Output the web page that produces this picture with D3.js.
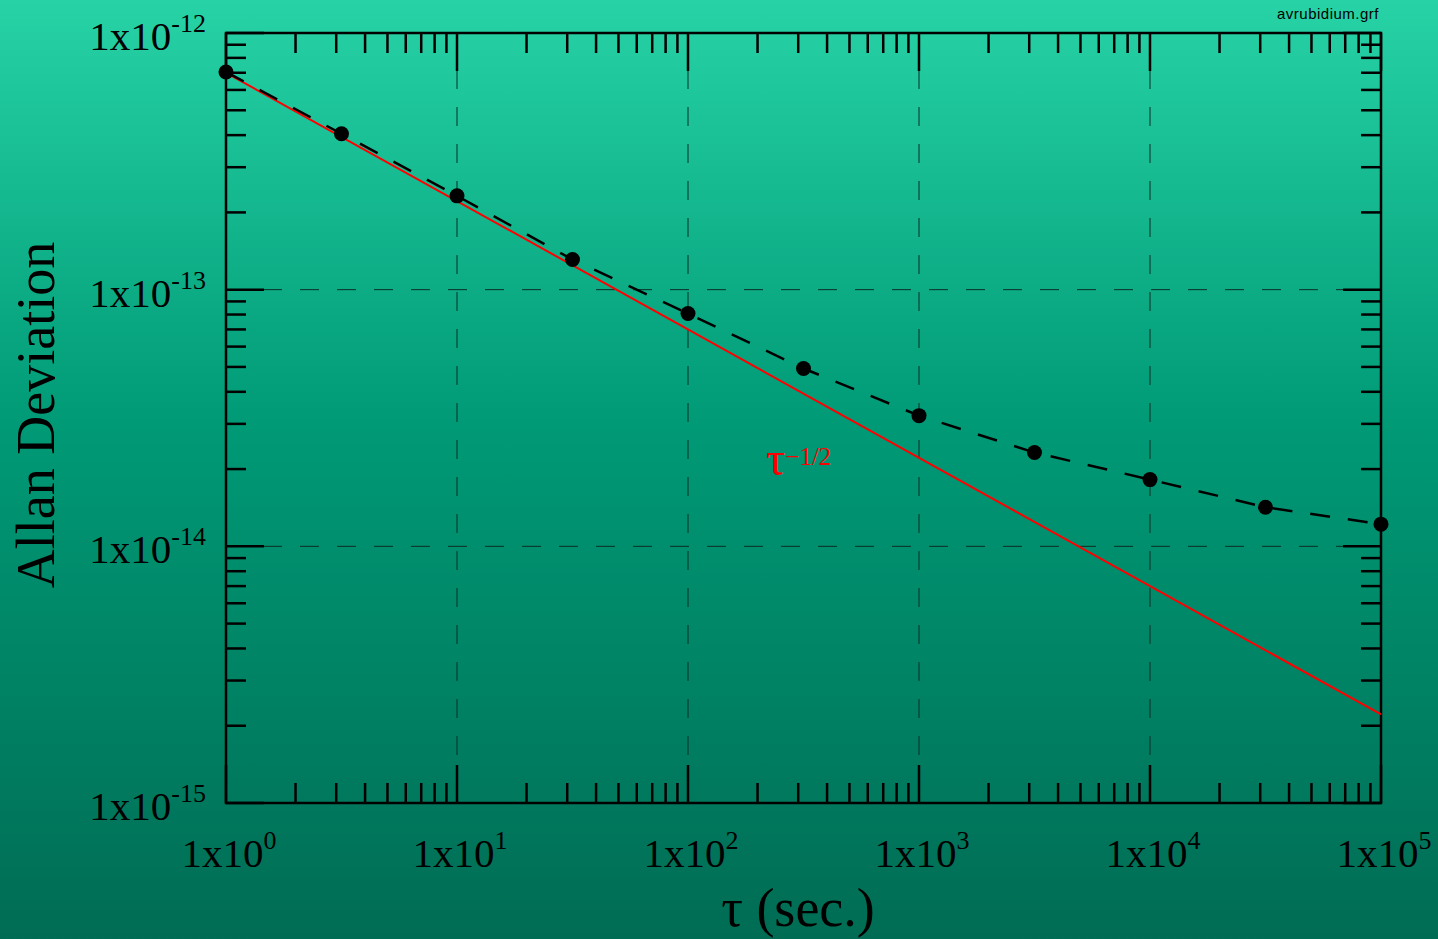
<!DOCTYPE html>
<meta charset="utf-8">
<style>
body { margin: 0; }
.grid line { stroke: #0b2e24; stroke-width: 1px; stroke-dasharray: 19,18; }
</style>
<html>
<body>
<div id="my_dataviz"></div>
<script src="https://d3js.org/d3.v7.min.js"></script>
<script>

// data: Allan deviation vs averaging time (half-decade steps)
var tau = [1, 3.162, 10, 31.62, 100, 316.2, 1000, 3162, 10000, 31620, 100000];
var adev = [7.05e-13, 4.05e-13, 2.32e-13, 1.31e-13, 8.07e-14, 4.93e-14, 3.23e-14, 2.32e-14, 1.82e-14, 1.42e-14, 1.22e-14];
var refStart = 7.0e-13;   // tau^-1/2 reference line at tau = 1
var refSlope = -0.5;
var xDecades = [0, 1, 2, 3, 4, 5];
var yDecades = [-12, -13, -14, -15];

var W = 1438, H = 939;
var margin = {top: 33, right: 57, bottom: 136, left: 226},
    width = W - margin.left - margin.right,
    height = H - margin.top - margin.bottom;

var root = d3.select("#my_dataviz")
  .append("svg")
    .attr("width", W)
    .attr("height", H);

// background gradient
var grad = root.append("defs").append("linearGradient")
    .attr("id", "bg").attr("x1", 0).attr("y1", 0).attr("x2", 0).attr("y2", 1);
grad.append("stop").attr("offset", "0%").attr("stop-color", "#27d3a6");
grad.append("stop").attr("offset", "45%").attr("stop-color", "#009a76");
grad.append("stop").attr("offset", "100%").attr("stop-color", "#006c54");
root.append("rect").attr("width", W).attr("height", H).attr("fill", "url(#bg)");

root.append("text")
    .attr("x", 1379).attr("y", 19)
    .attr("text-anchor", "end")
    .style("font-family", "Liberation Sans, Arial")
    .style("font-size", "15px")
    .style("letter-spacing", "0.5px")
    .text("avrubidium.grf");

var svg = root.append("g")
    .attr("transform", "translate(" + margin.left + "," + margin.top + ")");

var x = d3.scaleLog().domain([1, 1e5]).range([0, width]);
var y = d3.scaleLog().domain([1e-15, 1e-12]).range([height, 0]);

// minor tick values
var xMinor = [], yMinor = [];
for (var e = 0; e < 5; e++) for (var m = 2; m <= 9; m++) xMinor.push(m * Math.pow(10, e));
for (var e2 = -15; e2 < -12; e2++) for (var m2 = 2; m2 <= 9; m2++) yMinor.push(m2 * Math.pow(10, e2));

// grid lines at inner decades
var grid = svg.append("g").attr("class", "grid");
grid.selectAll("gx").data(xDecades.slice(1, -1)).enter().append("line")
    .attr("x1", d => x(Math.pow(10, d))).attr("x2", d => x(Math.pow(10, d)))
    .attr("y1", 0).attr("y2", height);
grid.selectAll("gy").data(yDecades.slice(1, -1)).enter().append("line")
    .attr("y1", d => y(Math.pow(10, d))).attr("y2", d => y(Math.pow(10, d)))
    .attr("x1", 0).attr("x2", width);

// ticks, all pointing inward
var tk = svg.append("g").attr("stroke", "black").attr("stroke-width", 2.5);
function xTicks(vals, len) {
  vals.forEach(function(v) {
    tk.append("line").attr("x1", x(v)).attr("x2", x(v)).attr("y1", height).attr("y2", height - len);
    tk.append("line").attr("x1", x(v)).attr("x2", x(v)).attr("y1", 0).attr("y2", len);
  });
}
function yTicks(vals, len) {
  vals.forEach(function(v) {
    tk.append("line").attr("y1", y(v)).attr("y2", y(v)).attr("x1", 0).attr("x2", len);
    tk.append("line").attr("y1", y(v)).attr("y2", y(v)).attr("x1", width).attr("x2", width - len);
  });
}
xTicks(xMinor, 20);
yTicks(yMinor, 20);
xTicks(xDecades.map(d => Math.pow(10, d)), 38);
yTicks(yDecades.map(d => Math.pow(10, d)), 38);

svg.append("rect")
    .attr("width", width).attr("height", height)
    .attr("fill", "none").attr("stroke", "black").attr("stroke-width", 2.5);

// tick labels
var xl = svg.append("g").style("font-family", "Liberation Serif, Times New Roman, serif").style("fill", "black");
xDecades.forEach(function(d) {
  var t = xl.append("text")
      .attr("x", x(Math.pow(10, d)) + 3).attr("y", height + 64)
      .attr("text-anchor", "middle")
      .style("font-size", "41px");
  t.append("tspan").text("1x10");
  t.append("tspan").attr("dy", -18).style("font-size", "26px").text(d);
});
yDecades.forEach(function(d) {
  var t = xl.append("text")
      .attr("x", -20).attr("y", y(Math.pow(10, d)) + 17)
      .attr("text-anchor", "end")
      .style("font-size", "41px");
  t.append("tspan").text("1x10");
  t.append("tspan").attr("dy", -18).style("font-size", "26px").text(d);
});

// axis titles
root.append("text")
    .attr("transform", "translate(54," + 415 + ") rotate(-90)")
    .attr("text-anchor", "middle")
    .style("font-family", "Liberation Serif, Times New Roman, serif")
    .style("font-size", "54px")
    .text("Allan Deviation");
root.append("text")
    .attr("x", 798).attr("y", 926)
    .attr("text-anchor", "middle")
    .style("font-family", "Liberation Serif, Times New Roman, serif")
    .style("font-size", "54px")
    .text("\u03c4 (sec.)");

// tau^-1/2 reference line
var refLine = d3.line()
    .x(d => x(d))
    .y(d => y(refStart * Math.pow(d, refSlope)));
svg.append("path")
    .datum([1, 1e5])
    .attr("d", refLine)
    .attr("fill", "none")
    .attr("stroke", "#ff0000")
    .attr("stroke-width", 2);

var lbl = svg.append("text")
    .attr("x", 766 - margin.left).attr("y", 475 - margin.top)
    .style("font-family", "Liberation Serif, Times New Roman, serif")
    .style("fill", "#ff0000")
    .style("font-size", "48px");
lbl.append("tspan").text("\u03c4");
lbl.append("tspan").attr("dy", -10).style("font-size", "25px").text("\u22121/2");

// data line and points
var dataLine = d3.line()
    .x((d, i) => x(tau[i]))
    .y(d => y(d));
svg.append("path")
    .datum(adev)
    .attr("d", dataLine)
    .attr("fill", "none")
    .attr("stroke", "black")
    .attr("stroke-width", 2.5)
    .attr("stroke-dasharray", "20,18");

svg.selectAll("mycircle")
  .data(adev)
  .enter()
  .append("circle")
    .attr("cx", (d, i) => x(tau[i]))
    .attr("cy", d => y(d))
    .attr("r", 7.5)
    .style("fill", "black");

</script>
</body>
</html>
